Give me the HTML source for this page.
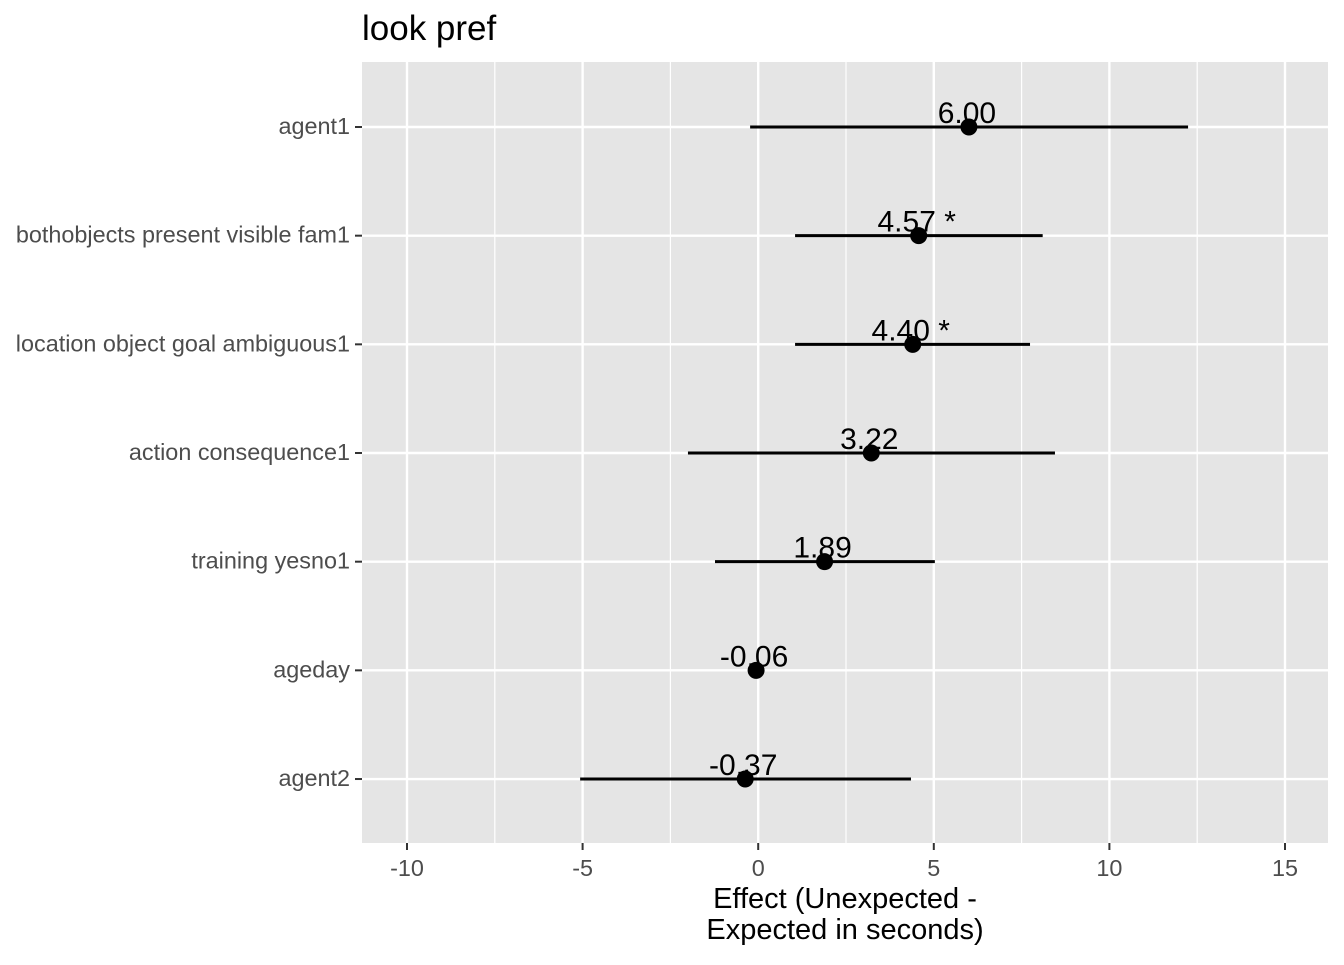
<!DOCTYPE html>
<html><head><meta charset="utf-8"><style>
body{margin:0;background:#fff;}
text{font-family:"Liberation Sans",Arial,sans-serif;}
</style></head><body>
<svg id="chart" width="1344" height="960" xmlns="http://www.w3.org/2000/svg">
<rect width="1344" height="960" fill="#fff"/>
<text x="362" y="40" font-size="35" fill="#000">look pref</text>
<rect x="362" y="62" width="966" height="781" fill="#e5e5e5"/>
<g id="grid"></g>
<g id="marks"></g>
<g id="axes"></g>
<text x="845" y="908" font-size="29" text-anchor="middle" fill="#000">Effect (Unexpected -</text>
<text x="845" y="939" font-size="29" text-anchor="middle" fill="#000">Expected in seconds)</text>
</svg>
<script>
const categories=["agent1","bothobjects present visible fam1","location object goal ambiguous1","action consequence1","training yesno1","ageday","agent2"];
const estimates=[6.00,4.57,4.40,3.22,1.89,-0.06,-0.37];
const lowers=[-0.23,1.05,1.05,-2.0,-1.23,-0.1,-5.07];
const uppers=[12.24,8.1,7.74,8.45,5.03,-0.02,4.35];
const labels=["6.00","4.57 *","4.40 *","3.22","1.89","-0.06","-0.37"];
const xTicks=[-10,-5,0,5,10,15];
const xMinor=[-7.5,-2.5,2.5,7.5,12.5];

const NS="http://www.w3.org/2000/svg";
const x=v=>758.2+v*35.12;
const y=i=>127+i*108.67;
function mk(tag,attrs,parent){const e=document.createElementNS(NS,tag);for(const k in attrs)e.setAttribute(k,attrs[k]);document.getElementById(parent).appendChild(e);return e;}

xMinor.forEach(v=>{const l=mk('line',{x1:x(v),x2:x(v),y1:62,y2:843,stroke:'#fff','stroke-width':1.2},'grid');

});
xTicks.forEach(v=>{const l=mk('line',{x1:x(v),x2:x(v),y1:62,y2:843,stroke:'#fff','stroke-width':2.4},'grid');


const t=mk('line',{x1:x(v),x2:x(v),y1:843,y2:850,stroke:'#333','stroke-width':2},'axes');


const tx=mk('text',{x:x(v),y:876,'font-size':23.4,'text-anchor':'middle',fill:'#4d4d4d'},'axes');tx.textContent=v;

});
categories.forEach((c,i)=>{const l=mk('line',{x1:362,x2:1328,y1:y(i),y2:y(i),stroke:'#fff','stroke-width':2.4},'grid');


const t=mk('line',{x1:355,x2:362,y1:y(i),y2:y(i),stroke:'#333','stroke-width':2},'axes');


const tx=mk('text',{x:350,y:y(i)+7,'font-size':23.4,'text-anchor':'end',fill:'#4d4d4d'},'axes');tx.textContent=c;


const e=mk('line',{x1:x(lowers[i]),x2:x(uppers[i]),y1:y(i),y2:y(i),stroke:'#000','stroke-width':3},'marks');


const p=mk('circle',{cx:x(estimates[i]),cy:y(i),r:8.5,fill:'#000'},'marks');


const lb=mk('text',{x:x(estimates[i])-2,y:y(i)-4,'font-size':30,'text-anchor':'middle',fill:'#000'},'marks');
lb.textContent=labels[i];


});
</script>
</body></html>
